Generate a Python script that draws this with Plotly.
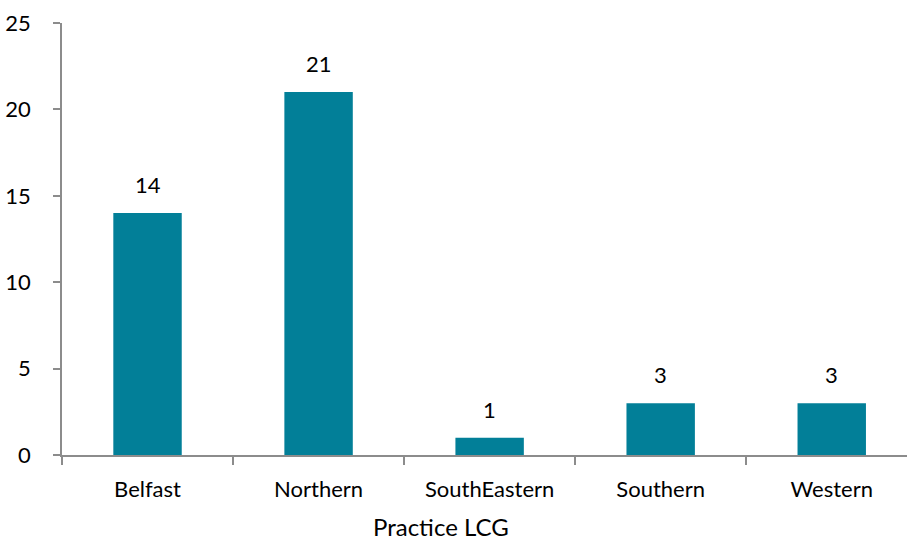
import plotly.graph_objects as go

categories = ["Belfast", "Northern", "SouthEastern", "Southern", "Western"]
values = [14, 21, 1, 3, 3]
y_ticks = [0, 5, 10, 15, 20, 25]

BAR = "#027F98"
FONT = "Lato, 'Open Sans', sans-serif"

fig = go.Figure()
fig.add_trace(go.Bar(x=categories, y=values, marker=dict(color=BAR, line=dict(width=0)),
                     hoverinfo="skip"))

for c, v in zip(categories, values):
    fig.add_annotation(x=c, y=v, text=str(v), showarrow=False, yanchor="bottom",
                       yshift=13, font=dict(family=FONT, size=22, color="#000"))

fig.add_annotation(x=0.4485, y=0, xref="paper", yref="paper", yanchor="top", yshift=-55,
                   text="Practice LCG", showarrow=False,
                   font=dict(family=FONT, size=24, color="#000"))

fig.update_layout(
    width=907, height=542,
    margin=dict(l=62, r=0, t=23, b=87),
    paper_bgcolor="white", plot_bgcolor="white",
    bargap=0.6, showlegend=False,
    font=dict(family=FONT, size=22, color="#000"),
    xaxis=dict(type="category", range=[-0.5, 4.44], showline=True, linecolor="#8C8C8C",
               linewidth=1.5, ticks="outside", tickson="boundaries", ticklen=8,
               tickcolor="#8C8C8C", tickwidth=1.5, showgrid=False,
               tickfont=dict(family=FONT, size=22, color="#000"), ticklabelstandoff=14),
    yaxis=dict(range=[0, 25], tickvals=y_ticks, showline=True, linecolor="#8C8C8C",
               linewidth=1.5, ticks="outside", ticklen=7, tickcolor="#8C8C8C", tickwidth=1.5,
               showgrid=False, zeroline=False,
               tickfont=dict(family=FONT, size=22, color="#000"), ticklabelstandoff=18),
)

fig.write_html("out.html")
